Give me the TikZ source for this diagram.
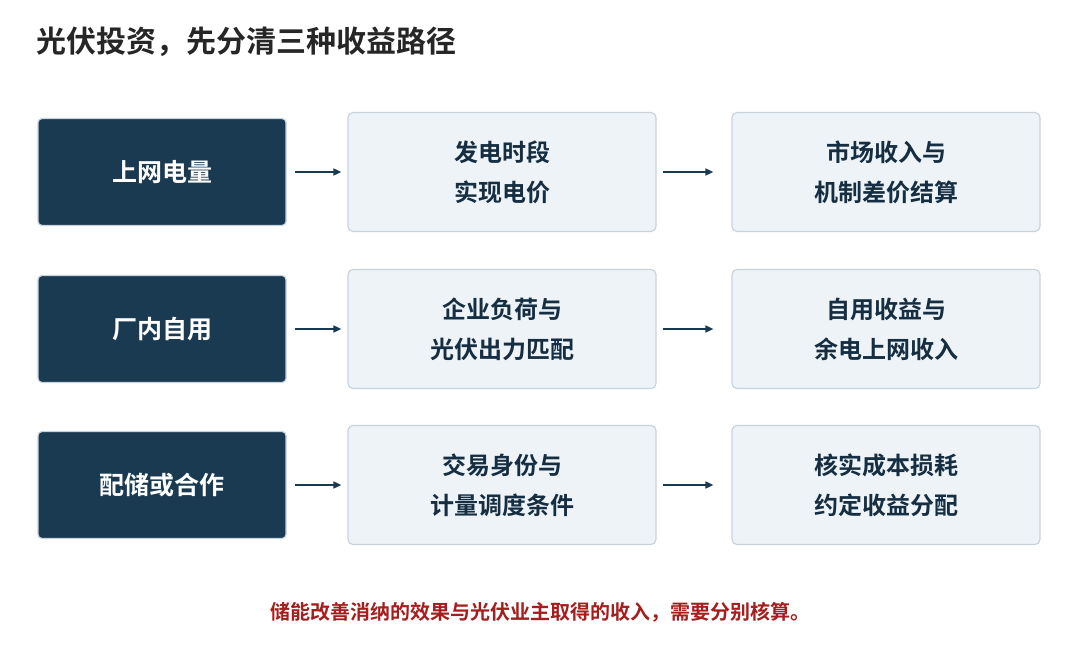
\documentclass[tikz,border=0pt]{standalone}
\usepackage{fontspec}
\setmainfont{Noto Sans CJK SC}[BoldFont={* Bold}]
\usetikzlibrary{arrows.meta}
\definecolor{navy}{HTML}{1A3A52}
\definecolor{pale}{HTML}{EEF3F7}
\definecolor{edge}{HTML}{C8D3DC}
\definecolor{note}{HTML}{A51D1D}
\begin{document}
\begin{tikzpicture}[x=1pt,y=-1pt,
  key/.style={draw=edge,line width=1.2pt,fill=navy,rounded corners=4pt,minimum width=248pt,minimum height=107pt,text=white,font=\bfseries\fontsize{25}{30}\selectfont},
  stage/.style={draw=edge,line width=1.2pt,fill=pale,rounded corners=5pt,minimum width=308pt,minimum height=119pt,text=navy!80!black,align=center,font=\bfseries\fontsize{24}{40}\selectfont},
  arr/.style={-{Triangle[length=8pt,width=7pt]},line width=1.6pt,draw=navy}]
\useasboundingbox (0,0) rectangle (1080,653);
\node[anchor=west,font=\bfseries\fontsize{30}{36}\selectfont,text=black!85] (t) at (33,42) {光伏投资，先分清三种收益路径};
\foreach \r/\y/\a/\b/\c in {1/172/上网电量/发电时段\\实现电价/市场收入与\\机制差价结算, 2/329/厂内自用/企业负荷与\\光伏出力匹配/自用收益与\\余电上网收入, 3/485/配储或合作/交易身份与\\计量调度条件/核实成本损耗\\约定收益分配}{
  \node[key] (k\r) at (162,\y) {\a};
  \node[stage] (m\r) at (502,\y) {\b};
  \node[stage] (n\r) at (886,\y) {\c};
  \draw[arr] ([xshift=8pt]k\r.east) -- ([xshift=-6pt]m\r.west);
  \draw[arr] ([xshift=6pt]m\r.east) -- ([xshift=-18pt]n\r.west);
}
\node[font=\bfseries\fontsize{20}{24}\selectfont,text=note] (f) at (540,612) {储能改善消纳的效果与光伏业主取得的收入，需要分别核算。};
\end{tikzpicture}
\end{document}
